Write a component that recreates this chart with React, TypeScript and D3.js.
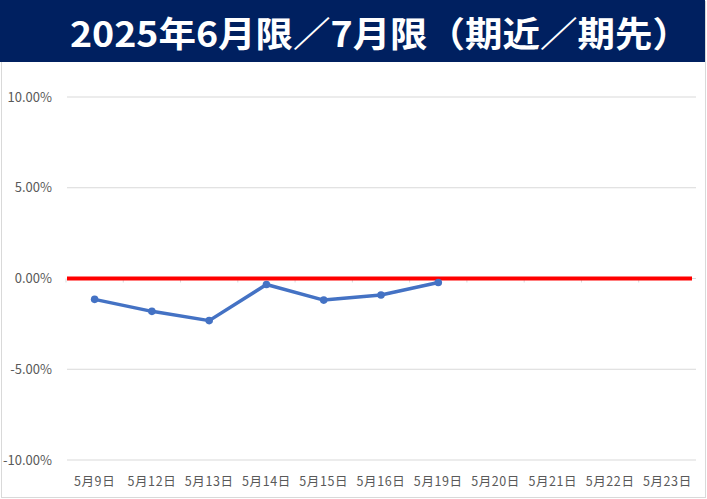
import React from "react";
import * as d3 from "d3";

const categories = ["5月9日", "5月12日", "5月13日", "5月14日", "5月15日", "5月16日", "5月19日", "5月20日", "5月21日", "5月22日", "5月23日"];
const spreadValues: (number | null)[] = [-0.0115, -0.0181, -0.0232, -0.0033, -0.0119, -0.0091, -0.0022, null, null, null, null];
const zeroValues = [0, 0, 0, 0, 0, 0, 0, 0, 0, 0, 0];
const yTicks = [0.1, 0.05, 0, -0.05, -0.1];
const title = "2025年6月限／7月限（期近／期先）";

const W = 707;
const H = 499;

export default function App() {
  const x = d3.scaleBand<string>().domain(categories).range([66, 696]);
  const y = d3.scaleLinear().domain([-0.1, 0.1]).range([460, 97]);
  const cx = (c: string) => (x(c) as number) + x.bandwidth() / 2;

  const pts = categories
    .map((c, i) => ({ c, v: spreadValues[i] }))
    .filter((d) => d.v !== null) as { c: string; v: number }[];

  const line = d3
    .line<{ c: string; v: number }>()
    .x((d) => cx(d.c))
    .y((d) => y(d.v));

  const zeroLine = d3
    .line<number>()
    .x((_, i) => (i === 0 ? 67 : i === categories.length - 1 ? 692 : cx(categories[i])))
    .y((d) => y(d));

  const fmt = (v: number) => (v * 100).toFixed(2) + "%";
  const labelFont = "'Noto Sans CJK JP', 'Noto Sans', sans-serif";

  return (
    <svg width={W} height={H} style={{ position: "absolute", left: 0, top: 0, display: "block" }}>
      <rect x={0} y={0} width={W} height={H} fill="#ffffff" />
      <rect x={1.5} y={1.5} width={W - 3} height={H - 3} fill="none" stroke="#d9d9d9" strokeWidth={1} />
      <rect x={0} y={0} width={705} height={62} fill="#002060" />
      <text
        x={70}
        y={47}
        fill="#ffffff"
        fontSize={35}
        fontWeight="bold"
        fontFamily={labelFont}
        textLength={620}
        lengthAdjust="spacingAndGlyphs"
      >
        {title}
      </text>

      {yTicks.map((t) => (
        <g key={t}>
          <line x1={67} x2={696} y1={y(t)} y2={y(t)} stroke="#d9d9d9" strokeWidth={1} />
          <text
            x={52}
            y={y(t)}
            dy="0.35em"
            textAnchor="end"
            fontSize={13}
            fill="#595959"
            fontFamily={labelFont}
          >
            {fmt(t)}
          </text>
        </g>
      ))}

      {categories.map((c) => (
        <g key={c}>
          <line x1={x(c) as number} x2={x(c) as number} y1={y(0)} y2={y(0) + 4} stroke="#d9d9d9" />
          <text
            x={cx(c)}
            y={482}
            dy="0.35em"
            textAnchor="middle"
            fontSize={12.5}
            letterSpacing={0.6}
            fill="#595959"
            fontFamily={labelFont}
          >
            {c}
          </text>
        </g>
      ))}

      <path d={zeroLine(zeroValues) || ""} fill="none" stroke="#ff0000" strokeWidth={4} />

      <path d={line(pts) || ""} fill="none" stroke="#4472c4" strokeWidth={3.5} strokeLinejoin="round" />
      {pts.map((d) => (
        <circle key={d.c} cx={cx(d.c)} cy={y(d.v)} r={3.8} fill="#4472c4" />
      ))}
    </svg>
  );
}
